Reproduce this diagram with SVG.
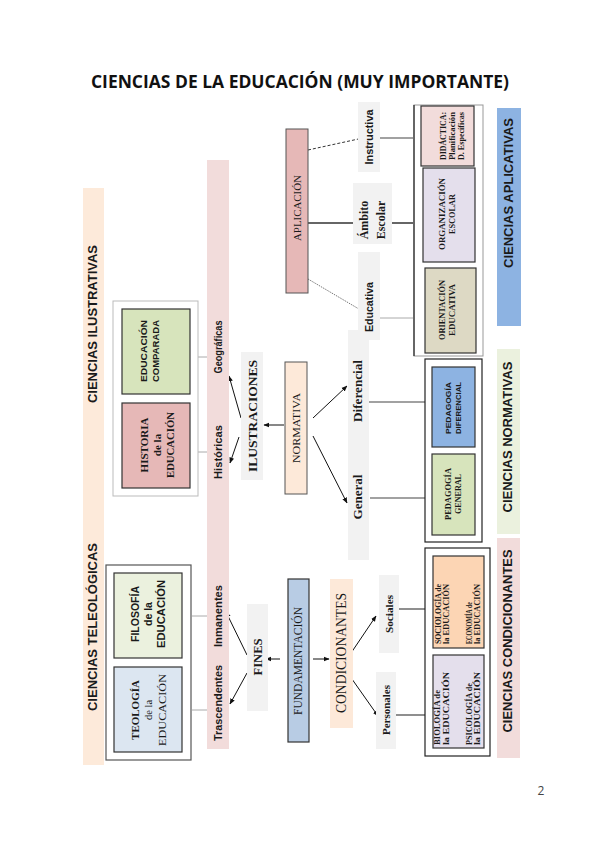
<svg xmlns="http://www.w3.org/2000/svg" width="599" height="848" viewBox="0 0 599 848">
<defs>
<style>
.sb{font-family:"Liberation Sans",Arial,sans-serif;font-weight:bold;fill:#1a1a1a}
.sr{font-family:"Liberation Serif","Times New Roman",serif;fill:#1a1a1a}
.srb{font-family:"Liberation Serif","Times New Roman",serif;font-weight:bold;fill:#1a1a1a}
.ln{stroke:#444;stroke-width:1.2;fill:none}
.lg{stroke:#aaa;stroke-width:1;fill:none}
.ar{stroke:#111;stroke-width:1;fill:none;marker-end:url(#ah)}
.box{stroke:#333;stroke-width:1.2}
.gray{fill:#f2f2f2}
text{text-anchor:middle;dominant-baseline:central}
.st{text-anchor:start}
</style>
<marker id="ah" viewBox="0 0 10 10" refX="9" refY="5" markerWidth="6" markerHeight="6" orient="auto"><path d="M0,1 L10,5 L0,9z" fill="#111"/></marker>
</defs>
<rect width="599" height="848" fill="#fff"/>
<text x="300" y="81" style="font-family:'Open Sans','Liberation Sans',sans-serif;font-weight:bold;font-size:17px;fill:#111" textLength="418" lengthAdjust="spacingAndGlyphs">CIENCIAS DE LA EDUCACIÓN (MUY IMPORTANTE)</text>

<g id="connectors">
<line class="lg" x1="192" y1="357" x2="207" y2="357"/>
<line class="lg" x1="190" y1="452" x2="207" y2="452"/>
<line class="lg" x1="192" y1="616" x2="207" y2="616"/>
<line class="lg" x1="192" y1="710" x2="207" y2="710"/>
<line class="ar" x1="284" y1="425" x2="264" y2="425"/>
<line class="ar" x1="241" y1="418" x2="229" y2="376"/>
<line class="ar" x1="239" y1="437" x2="230" y2="463"/>
<line class="ar" x1="313" y1="418" x2="347" y2="386"/>
<line class="ar" x1="313" y1="436" x2="347" y2="503"/>
<line class="ln" x1="363" y1="402" x2="425" y2="402"/>
<line class="ln" x1="370" y1="498" x2="425" y2="498"/>
<line class="ar" x1="247" y1="655" x2="226" y2="612"/>
<line class="ar" x1="247" y1="673" x2="230" y2="704"/>
<line class="ar" x1="280" y1="659" x2="266" y2="659"/>
<line class="ar" x1="313" y1="659" x2="329" y2="659"/>
<line class="ar" x1="347" y1="659" x2="376" y2="616"/>
<line class="ar" x1="347" y1="672" x2="378" y2="716"/>
<line class="ln" x1="399" y1="609" x2="425" y2="609"/>
<line class="ln" x1="396" y1="715" x2="425" y2="715"/>
<line x1="308" y1="150" x2="363" y2="138" stroke="#333" stroke-width="1" stroke-dasharray="3,2"/>
<line x1="308" y1="223" x2="413" y2="223" stroke="#666" stroke-width="2"/>
<line x1="308" y1="279" x2="364" y2="312" stroke="#555" stroke-width="0.8" stroke-dasharray="1.5,1"/>
<line class="ln" x1="380" y1="138" x2="413" y2="138"/>
<line class="lg" x1="380" y1="318" x2="413" y2="318"/>
</g>

<g id="bar-ilustrativas">
<rect x="83" y="188" width="21" height="577" fill="#fdeada"/>
<text class="sb" transform="translate(93,324) rotate(-90)" font-size="12.5" textLength="158" lengthAdjust="spacingAndGlyphs">CIENCIAS ILUSTRATIVAS</text>
<text class="sb" transform="translate(93,627) rotate(-90)" font-size="12.5" textLength="168" lengthAdjust="spacingAndGlyphs">CIENCIAS TELEOLÓGICAS</text>
</g>

<g id="box-ilustrativas">
<rect x="113" y="301" width="85" height="195" fill="#fff" stroke="#bbb" stroke-width="1"/>
<rect class="box" x="122" y="309" width="68" height="85" fill="#d7e4bc"/>
<text class="sb" transform="translate(143,351) rotate(-90)" font-size="9.5" textLength="62" lengthAdjust="spacingAndGlyphs">EDUCACIÓN</text>
<text class="sb" transform="translate(155,351) rotate(-90)" font-size="9.5" textLength="62" lengthAdjust="spacingAndGlyphs">COMPARADA</text>
<rect class="box" x="122" y="403" width="68" height="85" fill="#e6b8b7"/>
<text class="srb" transform="translate(144,445) rotate(-90)" font-size="11">HISTORIA</text>
<text class="srb" transform="translate(157,445) rotate(-90)" font-size="11">de la</text>
<text class="srb" transform="translate(170,445) rotate(-90)" font-size="11" textLength="66" lengthAdjust="spacingAndGlyphs">EDUCACIÓN</text>
</g>

<g id="box-teleologicas">
<rect x="106" y="565" width="85" height="195" fill="#fff" stroke="#555" stroke-width="1.2"/>
<rect class="box" x="114" y="573" width="68" height="85" fill="#ebf1de" stroke="#555"/>
<text class="sb" transform="translate(135,614) rotate(-90)" font-size="10.5">FILOSOFÍA</text>
<text class="sb" transform="translate(148,614) rotate(-90)" font-size="10.5">de la</text>
<text class="sb" transform="translate(161,614) rotate(-90)" font-size="10.5" textLength="68" lengthAdjust="spacingAndGlyphs">EDUCACIÓN</text>
<rect class="box" x="114" y="667" width="68" height="85" fill="#dce6f1" stroke="#555"/>
<text class="srb" transform="translate(135,710) rotate(-90)" font-size="11">TEOLOGÍA</text>
<text class="sr" transform="translate(148,710) rotate(-90)" font-size="10.5">de la</text>
<text class="sr" transform="translate(162,710) rotate(-90)" font-size="11" textLength="72" lengthAdjust="spacingAndGlyphs">EDUCACIÓN</text>
</g>

<g id="bar-pink">
<rect x="207" y="160" width="22" height="589" fill="#f2dcdb"/>
<text class="sb" transform="translate(218,347) rotate(-90)" font-size="10.5" textLength="53" lengthAdjust="spacingAndGlyphs">Geográficas</text>
<text class="sb" transform="translate(218,452) rotate(-90)" font-size="10.5" textLength="54" lengthAdjust="spacingAndGlyphs">Históricas</text>
<text class="sb" transform="translate(218,616) rotate(-90)" font-size="10.5" textLength="62" lengthAdjust="spacingAndGlyphs">Inmanentes</text>
<text class="sb" transform="translate(218,703) rotate(-90)" font-size="10.5" textLength="76" lengthAdjust="spacingAndGlyphs">Trascendentes</text>
</g>

<g id="ilustraciones">
<rect class="gray" x="241" y="352" width="22" height="128"/>
<text class="srb" transform="translate(252,416) rotate(-90)" font-size="13.5" textLength="112" lengthAdjust="spacingAndGlyphs">ILUSTRACIONES</text>
</g>

<g id="normativa">
<rect x="285" y="362" width="22" height="132" fill="#fde9d9" stroke="#555" stroke-width="1"/>
<text class="sr" transform="translate(296,428) rotate(-90)" font-size="10.5" textLength="70" lengthAdjust="spacingAndGlyphs">NORMATIVA</text>
</g>

<g id="diferencial-general">
<rect class="gray" x="348" y="330" width="21" height="230"/>
<text class="srb" transform="translate(358,391) rotate(-90)" font-size="12.5" textLength="62" lengthAdjust="spacingAndGlyphs">Diferencial</text>
<text class="srb" transform="translate(358,497) rotate(-90)" font-size="12.5" textLength="45" lengthAdjust="spacingAndGlyphs">General</text>
</g>

<g id="box-normativas">
<rect x="425" y="359" width="57" height="183" fill="#fff" stroke="#222" stroke-width="1.2"/>
<rect class="box" x="432" y="367" width="43" height="80" fill="#8db3e2"/>
<text class="sb" transform="translate(448,408) rotate(-90)" font-size="8" textLength="52" lengthAdjust="spacingAndGlyphs">PEDAGOGÍA</text>
<text class="sb" transform="translate(458,408) rotate(-90)" font-size="8" textLength="52" lengthAdjust="spacingAndGlyphs">DIFERENCIAL</text>
<rect class="box" x="432" y="454" width="43" height="81" fill="#d7e4bc"/>
<text class="srb" transform="translate(448,494) rotate(-90)" font-size="8" textLength="52" lengthAdjust="spacingAndGlyphs">PEDAGOGÍA</text>
<text class="srb" transform="translate(458,494) rotate(-90)" font-size="8" textLength="40" lengthAdjust="spacingAndGlyphs">GENERAL</text>
</g>

<g id="bar-aplicativas">
<rect x="497" y="108" width="24" height="218" fill="#8db3e2"/>
<text class="sb" transform="translate(509,193) rotate(-90)" font-size="12.5" textLength="150" lengthAdjust="spacingAndGlyphs">CIENCIAS APLICATIVAS</text>
</g>
<g id="bar-normativas">
<rect x="497" y="349" width="23" height="185" fill="#ebf1de"/>
<text class="sb" transform="translate(508,437) rotate(-90)" font-size="12.5" textLength="151" lengthAdjust="spacingAndGlyphs">CIENCIAS NORMATIVAS</text>
</g>
<g id="bar-condicionantes">
<rect x="497" y="538" width="23" height="220" fill="#f2dcdb"/>
<text class="sb" transform="translate(508,641) rotate(-90)" font-size="12.5" textLength="183" lengthAdjust="spacingAndGlyphs">CIENCIAS CONDICIONANTES</text>
</g>

<g id="aplicacion">
<rect x="286" y="129" width="22" height="164" fill="#e6b8b7" stroke="#555" stroke-width="1"/>
<text class="sr" transform="translate(297,208) rotate(-90)" font-size="11" textLength="66" lengthAdjust="spacingAndGlyphs">APLICACIÓN</text>
</g>
<g id="instructiva">
<rect class="gray" x="358" y="102" width="22" height="70"/>
<text class="sb" transform="translate(369,137) rotate(-90)" font-size="10.5" textLength="55" lengthAdjust="spacingAndGlyphs">Instructiva</text>
</g>
<g id="ambito">
<rect class="gray" x="353" y="183" width="39" height="61"/>
<text class="srb" transform="translate(364,220) rotate(-90)" font-size="12">Ámbito</text>
<text class="srb" transform="translate(381,220) rotate(-90)" font-size="12">Escolar</text>
</g>
<g id="educativa">
<rect class="gray" x="358" y="252" width="22" height="88"/>
<text class="sb" transform="translate(369,307) rotate(-90)" font-size="10.5" textLength="50" lengthAdjust="spacingAndGlyphs">Educativa</text>
</g>

<g id="box-aplicativas">
<rect x="414" y="105" width="69" height="251" fill="#fff" stroke="#999" stroke-width="1"/>
<line x1="414" y1="105" x2="414" y2="356" stroke="#222" stroke-width="1.2"/>
<rect class="box" x="421" y="106" width="53" height="60" fill="#f2dcdb"/>
<text class="srb" transform="translate(443,136) rotate(-90)" font-size="8" textLength="48" lengthAdjust="spacingAndGlyphs">DIDÁCTICA:</text>
<text class="srb" transform="translate(452,136) rotate(-90)" font-size="8" textLength="48" lengthAdjust="spacingAndGlyphs">Planificación</text>
<text class="srb" transform="translate(461,136) rotate(-90)" font-size="8" textLength="48" lengthAdjust="spacingAndGlyphs">D. Específicas</text>
<rect class="box" x="423" y="168" width="52" height="94" fill="#e4dfec" stroke="#555"/>
<text class="srb" transform="translate(442,214) rotate(-90)" font-size="8" textLength="72" lengthAdjust="spacingAndGlyphs">ORGANIZACIÓN</text>
<text class="srb" transform="translate(452,214) rotate(-90)" font-size="8" textLength="40" lengthAdjust="spacingAndGlyphs">ESCOLAR</text>
<rect class="box" x="425" y="268" width="51" height="85" fill="#ddd9c4"/>
<text class="srb" transform="translate(442,310) rotate(-90)" font-size="8" textLength="60" lengthAdjust="spacingAndGlyphs">ORIENTACIÓN</text>
<text class="srb" transform="translate(452,310) rotate(-90)" font-size="8" textLength="52" lengthAdjust="spacingAndGlyphs">EDUCATIVA</text>
</g>

<g id="fines">
<rect class="gray" x="247" y="604" width="21" height="107"/>
<text class="srb" transform="translate(257,657) rotate(-90)" font-size="13" textLength="37" lengthAdjust="spacingAndGlyphs">FINES</text>
</g>
<g id="fundamentacion">
<rect x="288" y="579" width="21" height="163" fill="#b8cce4" stroke="#333" stroke-width="1.2"/>
<text class="sr" transform="translate(298,661) rotate(-90)" font-size="11.5" textLength="108" lengthAdjust="spacingAndGlyphs">FUNDAMENTACIÓN</text>
</g>
<g id="condicionantes">
<rect x="330" y="579" width="23" height="149" fill="#fde9d9"/>
<text class="sr" transform="translate(341,653) rotate(-90)" font-size="15" textLength="120" lengthAdjust="spacingAndGlyphs">CONDICIONANTES</text>
</g>
<g id="sociales">
<rect class="gray" x="379" y="575" width="20" height="78"/>
<text class="srb" transform="translate(389,614) rotate(-90)" font-size="10" textLength="38" lengthAdjust="spacingAndGlyphs">Sociales</text>
</g>
<g id="personales">
<rect class="gray" x="376" y="672" width="20" height="77"/>
<text class="srb" transform="translate(386,710) rotate(-90)" font-size="10.5" textLength="50" lengthAdjust="spacingAndGlyphs">Personales</text>
</g>

<g id="box-condicionantes">
<rect x="425" y="548" width="65" height="208" fill="#fff" stroke="#222" stroke-width="1.2"/>
<rect class="box" x="433" y="556" width="51" height="92" fill="#fcd5b4" stroke="#666"/>
<text class="srb st" transform="translate(438,644) rotate(-90)" font-size="7.5" textLength="60" lengthAdjust="spacingAndGlyphs">SOCIOLOGÍA de</text>
<text class="srb st" transform="translate(446,644) rotate(-90)" font-size="7.5" textLength="60" lengthAdjust="spacingAndGlyphs">la EDUCACIÓN</text>
<text class="srb st" transform="translate(469,644) rotate(-90)" font-size="7.5" textLength="42" lengthAdjust="spacingAndGlyphs">ECONOMÍA de</text>
<text class="srb st" transform="translate(477,644) rotate(-90)" font-size="7.5" textLength="60" lengthAdjust="spacingAndGlyphs">la EDUCACIÓN</text>
<rect class="box" x="433" y="655" width="51" height="93" fill="#e4dfec" stroke="#555"/>
<text class="srb st" transform="translate(437,745) rotate(-90)" font-size="7.5" textLength="55" lengthAdjust="spacingAndGlyphs">BIOLOGÍA de</text>
<text class="srb st" transform="translate(446,745) rotate(-90)" font-size="7.5" textLength="73" lengthAdjust="spacingAndGlyphs">la EDUCACIÓN</text>
<text class="srb st" transform="translate(469,745) rotate(-90)" font-size="7.5" textLength="62" lengthAdjust="spacingAndGlyphs">PSICOLOGÍA de</text>
<text class="srb st" transform="translate(477,745) rotate(-90)" font-size="7.5" textLength="73" lengthAdjust="spacingAndGlyphs">la EDUCACIÓN</text>
</g>

<text x="541" y="790" style="font-family:'Open Sans','Liberation Sans',sans-serif;font-size:12px;fill:#444">2</text>
</svg>
